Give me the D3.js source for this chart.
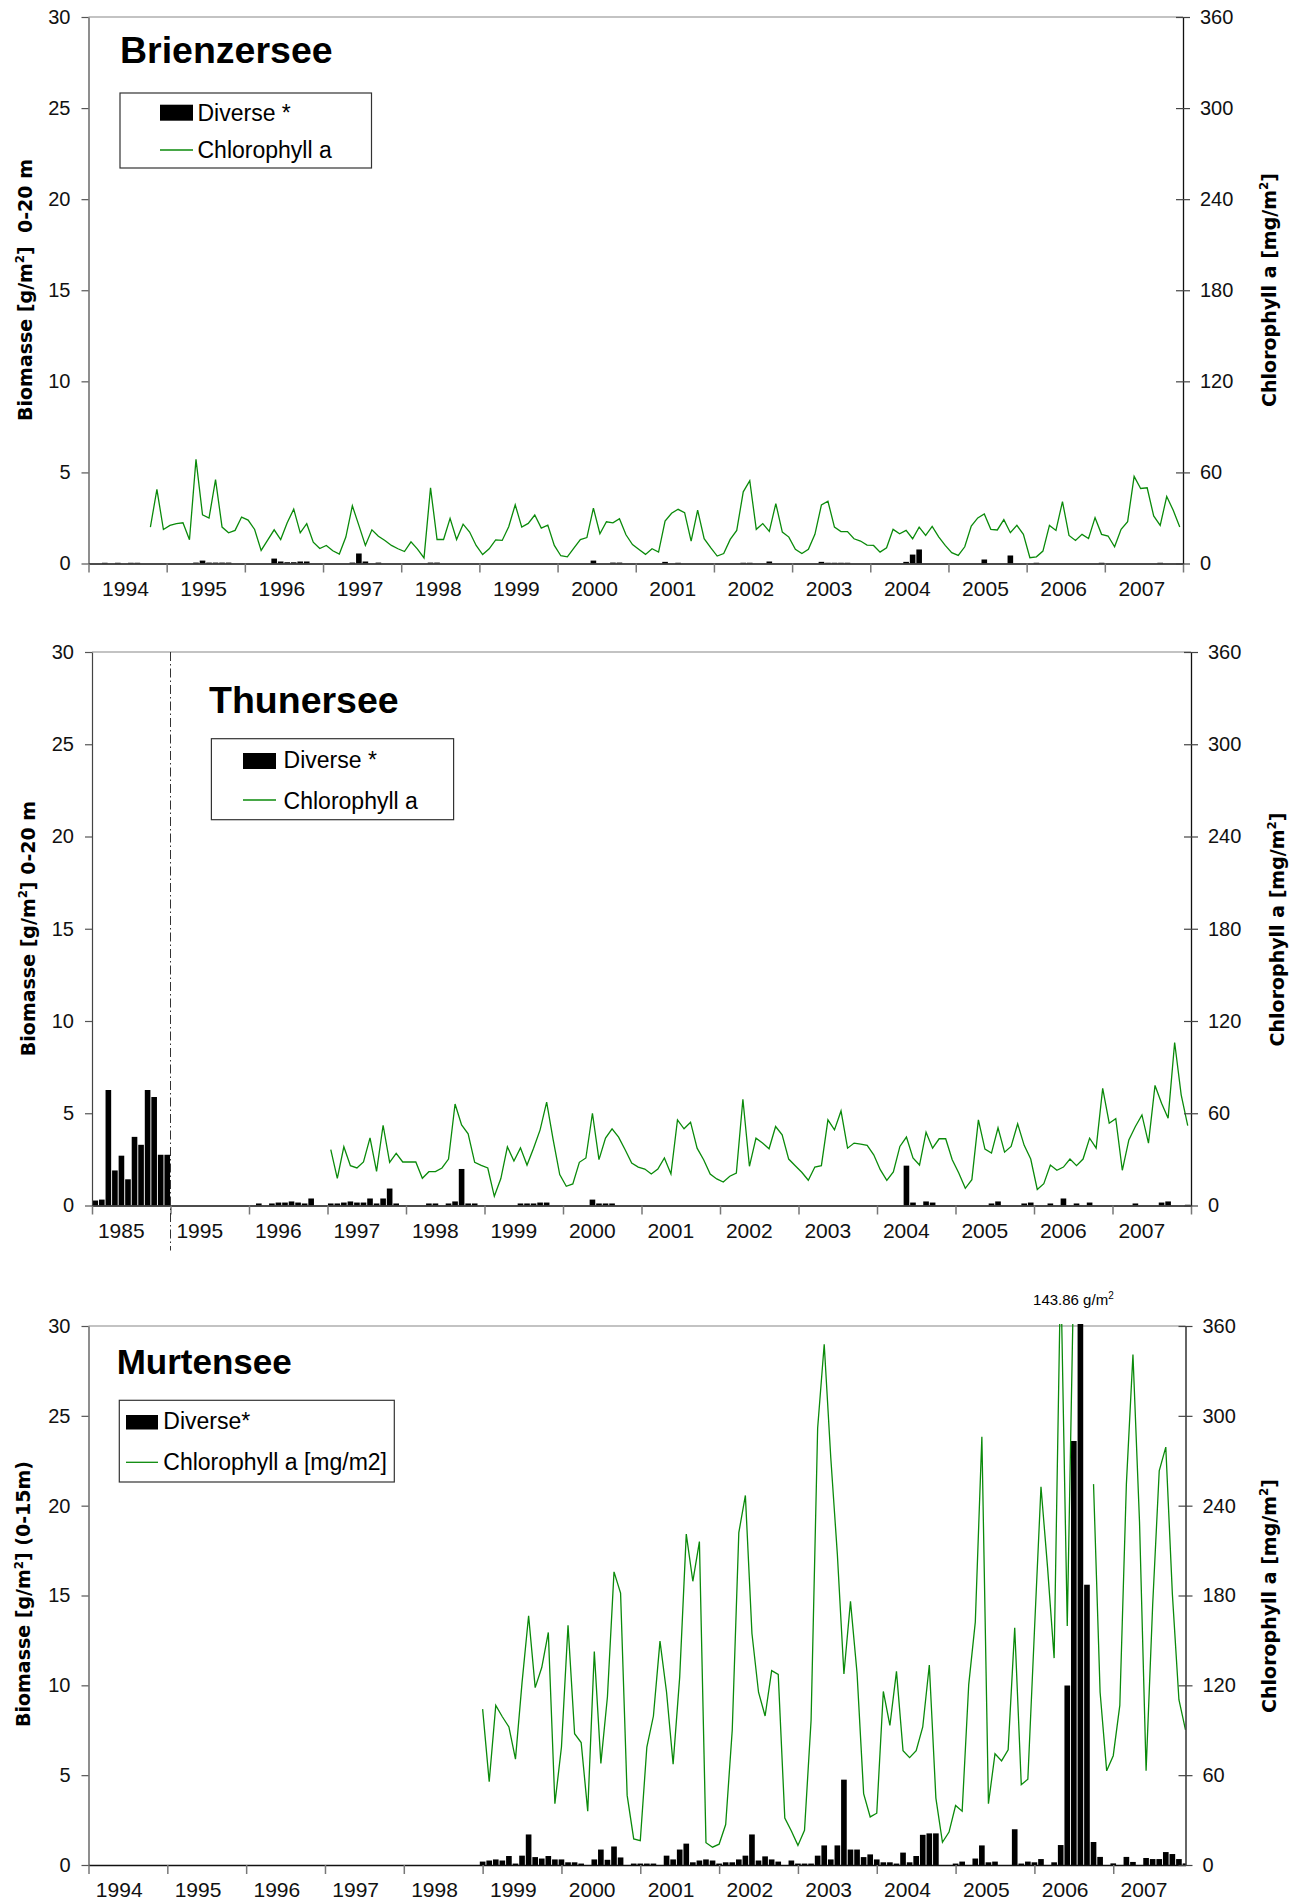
<!DOCTYPE html>
<html><head><meta charset="utf-8">
<script src="https://cdn.jsdelivr.net/npm/d3@7"></script>
<style>body{margin:0;background:#fff;} svg{display:block;background:#fff;}</style>
</head><body>
<svg id="chart" width="1300" height="1904"></svg>
<script>
// ================= DATA =================
// x = month index from the first year shown on each axis (12 months per year label)
const brienzYears = ["1994","1995","1996","1997","1998","1999","2000","2001","2002","2003","2004","2005","2006","2007"];
const thunYears   = ["1985","1995","1996","1997","1998","1999","2000","2001","2002","2003","2004","2005","2006","2007"];
const murtenYears = ["1994","1995","1996","1997","1998","1999","2000","2001","2002","2003","2004","2005","2006","2007"];

const biomassTicks = [0, 5, 10, 15, 20, 25, 30];
const chlTicks = [0, 60, 120, 180, 240, 300, 360];

// Brienzersee: biomass "Diverse *" [g/m2], one value per month (1994..2007)
const brienzBio = [
  0,0,0.04,0,0.04,0,0.04,0.04,0,0,0,0,
  0,0,0,0,0.05,0.16,0.05,0.05,0.05,0.05,0,0,
  0,0,0,0,0.27,0.11,0.07,0.07,0.11,0.11,0,0,
  0,0,0,0,0.05,0.55,0.11,0,0.05,0,0,0,
  0,0,0,0,0.05,0.05,0,0,0,0,0,0,
  0,0,0,0,0,0,0,0,0,0,0,0,
  0,0,0,0,0,0.16,0,0,0.05,0.05,0,0,
  0,0,0,0,0.09,0,0.04,0,0,0,0,0,
  0,0,0,0,0.04,0.04,0,0,0.11,0,0,0,
  0,0,0,0,0.09,0.04,0.04,0.04,0.04,0,0,0,
  0,0,0,0,0,0.09,0.49,0.77,0,0,0,0,
  0,0,0,0,0,0.22,0,0,0,0.44,0,0,
  0,0.04,0,0,0,0,0,0,0,0,0,0.04,
  0,0,0,0,0,0,0,0,0.04,0,0,0
];
// Brienzersee chlorophyll a [mg/m2], monthly from month index 9 (Oct 1994)
const brienzChlStart = 9;
const brienzChl = [
  24.0,48.8,22.4,
  25.1,26.2,26.8,15.6,68.6,32.1,29.9,55.2,24.0,20.2,21.8,30.6,
  28.6,22.4,8.6,15.4,22.2,15.8,26.8,35.8,20.2,26.2,14.1,9.9,
  11.9,8.4,6.2,17.4,38.0,25.1,11.9,22.2,18.0,15.2,11.9,9.7,
  7.9,14.3,9.5,3.7,49.9,15.8,15.8,29.7,15.8,25.9,20.7,11.9,
  5.9,9.7,15.6,15.2,24.2,38.7,24.0,26.4,31.9,23.3,25.3,11.9,
  5.1,4.4,10.1,15.8,17.1,36.5,19.6,27.5,26.8,29.5,18.9,12.5,
  9.2,6.0,9.7,7.5,28.0,33.1,35.7,33.5,14.8,35.1,16.3,10.4,
  4.9,6.6,15.9,21.8,47.2,54.5,22.5,26.3,21.2,39.5,20.7,17.4,
  9.3,6.6,9.3,19.2,38.6,41.0,24.0,21.0,21.0,16.3,14.8,12.1,
  11.9,7.5,10.4,22.5,19.6,21.8,16.3,24.0,18.5,24.5,17.6,11.9,
  7.1,5.3,11.0,24.7,30.0,32.6,22.5,22.1,28.9,20.3,25.1,19.2,
  3.8,4.4,8.2,25.1,21.8,40.8,18.5,15.2,19.2,16.5,30.2,19.2,
  18.1,11.0,22.5,27.6,57.4,49.4,49.9,31.3,25.1,44.1,35.1,24.0
];

// Thunersee: biomass [g/m2], monthly (1985, then 1995..2007)
const thunBio = [
  0.27,0.32,6.26,1.9,2.7,1.42,3.72,3.29,6.26,5.88,2.75,2.75,
  0,0,0,0,0,0,0,0,0,0,0,0,
  0,0.11,0,0.11,0.16,0.16,0.22,0.16,0.11,0.38,0,0,
  0.11,0.11,0.16,0.22,0.16,0.16,0.38,0.11,0.38,0.92,0.11,0,
  0,0,0,0.11,0.11,0,0.11,0.22,1.98,0.11,0.11,0,
  0,0,0,0,0,0.11,0.11,0.11,0.16,0.16,0,0,
  0,0,0,0,0.32,0.11,0.11,0.11,0,0,0,0,
  0,0,0,0,0,0,0,0,0,0,0,0,
  0,0,0,0,0,0,0,0,0,0,0,0,
  0,0,0,0,0,0,0,0,0,0,0,0,
  0,0,0,0,2.16,0.16,0,0.22,0.16,0,0,0,
  0,0,0,0,0,0.11,0.22,0,0,0,0.11,0.16,
  0,0,0.11,0,0.38,0,0.11,0,0.16,0,0,0,
  0,0,0,0.11,0,0,0,0.16,0.22,0,0,0.04
];
// Thunersee chlorophyll a [mg/m2], monthly from month index 36 (Jan 1997)
const thunChlStart = 36;
const thunChl = [
  36.3,17.7,38.2,25.9,24.4,28.3,44.0,22.2,52.2,28.1,33.9,28.3,
  28.3,28.3,17.7,22.0,22.0,24.4,30.2,66.0,52.4,46.6,28.1,26.1,
  24.4,6.0,17.5,38.2,28.9,37.5,26.3,37.3,49.2,67.3,42.7,20.1,
  12.5,14.0,28.1,30.9,60.0,29.8,43.8,49.9,44.5,36.3,27.6,25.0,
  23.7,20.5,23.7,30.9,20.5,55.7,49.9,54.2,37.3,29.8,20.5,17.3,
  15.3,19.0,21.1,69.1,25.5,43.8,40.6,36.9,51.4,46.0,30.2,25.9,
  21.6,16.4,25.0,25.9,55.7,49.2,61.5,37.3,40.6,39.9,39.1,33.0,
  23.3,16.4,21.8,38.4,44.5,30.9,26.3,47.7,37.3,43.4,43.4,29.8,
  21.1,11.2,16.8,55.7,36.7,34.1,50.5,34.7,38.4,53.1,39.1,30.2,
  10.4,14.2,26.3,22.9,25.0,30.2,25.9,30.2,43.8,37.3,76.2,53.5,
  56.5,22.9,42.7,51.4,58.9,40.6,78.1,66.5,56.8,106.0,72.0,52.0
];

// Murtensee: biomass "Diverse*" [g/m2], monthly (1994..2007)
const murtenBio = [
  0,0,0,0,0,0,0,0,0,0,0,0,
  0,0,0,0,0,0,0,0,0,0,0,0,
  0,0,0,0,0,0,0,0,0,0,0,0,
  0,0,0,0,0,0,0,0,0,0,0,0,
  0,0,0,0,0,0,0,0,0,0,0,0,
  0.19,0.25,0.31,0.25,0.50,0.08,0.52,1.70,0.44,0.36,0.50,0.31,
  0.31,0.15,0.15,0.08,0,0.31,0.86,0.29,1.03,0.42,0,0.08,
  0.08,0.08,0.08,0,0.52,0.31,0.86,1.19,0.15,0.25,0.31,0.25,
  0.08,0.15,0.15,0.31,0.52,1.70,0.25,0.48,0.31,0.19,0,0.25,
  0.08,0.08,0.08,0.52,1.09,0.31,1.09,4.75,0.86,0.86,0.44,0.59,
  0.31,0.15,0.15,0.08,0.69,0.15,0.50,1.68,1.76,1.76,0,0,
  0.08,0.19,0,0.36,1.09,0.15,0.19,0,0,1.99,0.08,0.19,
  0.15,0.33,0,0.15,1.11,9.99,23.6,143.86,15.6,1.28,0.45,0,
  0.09,0,0.45,0.17,0,0.39,0.33,0.33,0.72,0.61,0.33,0.09
];
// Murtensee chlorophyll a [mg/m2], monthly from month index 60 (Jan 1999); null = no value
const murtenChlStart = 60;
const murtenChl = [
  104.1,55.6,106.6,99.0,92.2,70.7,121.8,166.5,118.5,131.9,155.3,40.9,
  78.8,160.1,87.7,81.8,35.9,142.5,67.9,112.4,195.8,181.6,46.5,17.4,
  16.2,78.8,99.5,149.5,115.4,67.4,125.5,221.0,189.5,216.0,14.9,11.9,
  13.9,27.0,90.2,222.0,246.8,154.6,115.4,99.5,129.8,127.3,31.3,22.7,
  13.1,23.2,96.5,291.7,347.8,272.0,207.6,127.6,176.1,128.1,47.7,32.1,
  34.6,115.9,93.2,129.3,76.3,71.7,76.3,92.2,133.6,44.7,15.2,22.0,
  39.7,35.9,120.5,162.2,286.0,40.9,74.3,69.5,77.0,158.4,53.6,57.3,
  155.9,252.6,198.8,138.2,400,159.6,400,null,null,254.4,115.4,62.9,
  73.0,106.6,254.4,341.0,229.1,62.9,173.5,263.2,279.1,181.1,110.4,90.2
];
const murtenPeakIndex = 151;
const murtenPeakLabel = "143.86 g/m";

// ================= LAYOUT / DRAWING =================
const SANS = "'Liberation Sans', Arial, sans-serif";
const WIDE = "'DejaVu Sans', Verdana, sans-serif";
const GREEN = "#0a8a0a";

const panels = [
  {
    title: "Brienzersee", years: brienzYears, bio: brienzBio, chl: brienzChl, chlStart: brienzChlStart,
    yTitle: ["Biomasse [g/m", "2", "]  0-20 m"], legend: ["Diverse *", "Chlorophyll a"],
    G: { left: 88.5, right: 1183, top: 17, bottom: 563.5, xMax: 168, off: 0.5, labelOff: 5.6,
         titleX: 120, titleY: 63, titleSize: 37.5,
         lyX: 25, lyY: 290, ryX: 1269, ryY: 290,
         legend: { x: 120, y: 93, w: 251.5, h: 75, rx: 160, ry: 104.7, rw: 33, rh: 16, tx: 197.5, t1y: 120.5, ly: 150, t2y: 158, size: 23 } }
  },
  {
    title: "Thunersee", years: thunYears, bio: thunBio, chl: thunChl, chlStart: thunChlStart,
    yTitle: ["Biomasse [g/m", "2", "] 0-20 m"], legend: ["Diverse *", "Chlorophyll a"], breakAt: 12,
    G: { left: 92, right: 1191, top: 652, bottom: 1205.5, xMax: 168, off: 0.5, labelOff: 4.4,
         titleX: 209, titleY: 713, titleSize: 37.5,
         lyX: 27.5, lyY: 928.5, ryX: 1277, ryY: 929.5,
         legend: { x: 211.4, y: 738.7, w: 242.2, h: 81, rx: 243, ry: 753, rw: 33, rh: 16, tx: 283.6, t1y: 768, ly: 800, t2y: 808.7, size: 23 } }
  },
  {
    title: "Murtensee", years: murtenYears, bio: murtenBio, chl: murtenChl, chlStart: murtenChlStart,
    yTitle: ["Biomasse [g/m", "2", "] (0-15m)"], legend: ["Diverse*", "Chlorophyll a [mg/m2]"],
    peak: true,
    G: { left: 88.5, right: 1185.5, top: 1326, bottom: 1865, xMax: 167, off: 0, labelOff: 4.6,
         titleX: 116.7, titleY: 1374, titleSize: 35,
         lyX: 23.2, lyY: 1594, ryX: 1269, ryY: 1596,
         legend: { x: 119.3, y: 1400.3, w: 275, h: 81.7, rx: 126, ry: 1415, rw: 32, rh: 14.5, tx: 163.3, t1y: 1429.3, ly: 1462.3, t2y: 1470, size: 23 } }
  }
];

const svg = d3.select("#chart");
const defs = svg.append("defs");

function rotTitle(g, cx, cy, parts, size) {
  const t = g.append("text")
    .attr("transform", `translate(${cx + 7},${cy}) rotate(-90)`)
    .attr("text-anchor", "middle")
    .attr("font-family", WIDE).attr("font-weight", "bold").attr("font-size", size)
    .attr("fill", "#000")
    .style("white-space", "pre");
  t.append("tspan").text(parts[0]);
  t.append("tspan").text(parts[1]).attr("font-size", size * 0.62).attr("dy", -size * 0.4);
  t.append("tspan").text(parts[2]).attr("dy", size * 0.4);
}

panels.forEach((p, idx) => {
  const G = p.G;
  const x = d3.scaleLinear().domain([0, G.xMax]).range([G.left, G.right]);
  const yL = d3.scaleLinear().domain([0, 30]).range([G.bottom, G.top]);
  const yR = d3.scaleLinear().domain([0, 360]).range([G.bottom, G.top]);
  const g = svg.append("g");

  const clipId = "clip" + idx;
  defs.append("clipPath").attr("id", clipId).append("rect")
    .attr("x", G.left).attr("y", G.top - 2)
    .attr("width", G.right - G.left).attr("height", G.bottom - G.top + 2);

  // top border
  g.append("line").attr("x1", G.left).attr("x2", G.right).attr("y1", G.top).attr("y2", G.top)
    .attr("stroke", "#888").attr("stroke-width", 1.2);

  // bars
  const pitch = x(1) - x(0);
  const bw = pitch * 0.86;
  const barData = p.bio.map((v, i) => ({ i, v })).filter(d => d.v > 0);
  g.append("g").attr("clip-path", `url(#${clipId})`)
    .selectAll("rect").data(barData).join("rect")
    .attr("x", d => x(d.i + G.off) - bw / 2)
    .attr("width", bw)
    .attr("y", d => yL(d.v))
    .attr("height", d => yL(0) - yL(d.v))
    .attr("fill", "#000");

  // chlorophyll line
  const lineData = p.chl.map((v, k) => ({ i: p.chlStart + k, v }));
  const line = d3.line().defined(d => d.v != null).x(d => x(d.i + G.off)).y(d => yR(d.v));
  g.append("path").datum(lineData)
    .attr("clip-path", `url(#${clipId})`)
    .attr("d", line)
    .attr("fill", "none").attr("stroke", GREEN).attr("stroke-width", 1.3);

  // bottom axis ticks
  const gx = g.append("g").attr("transform", `translate(0,${G.bottom})`)
    .call(d3.axisBottom(x).tickValues(d3.range(0, G.xMax + 0.001, 12)).tickSize(9).tickSizeOuter(0).tickFormat(""));
  gx.select(".domain").attr("stroke", "#111").attr("stroke-width", 1.5);
  gx.selectAll(".tick line").attr("stroke", "#777").attr("stroke-width", 1.5);

  // year labels
  const gl = g.append("g").attr("transform", `translate(0,${G.bottom})`)
    .call(d3.axisBottom(x).tickValues(p.years.map((_, i) => i * 12 + G.labelOff))
      .tickFormat((d, i) => p.years[i]).tickSize(0));
  gl.select(".domain").remove();
  gl.attr("font-family", SANS).attr("font-size", 21);
  gl.selectAll("text").attr("y", 32).attr("dy", null).attr("fill", "#111");

  // left axis
  const gyl = g.append("g").attr("transform", `translate(${G.left},0)`)
    .call(d3.axisLeft(yL).tickValues(biomassTicks).tickSize(7).tickSizeOuter(0).tickPadding(11));
  gyl.attr("font-family", SANS).attr("font-size", 20);
  gyl.select(".domain").attr("stroke", "#444").attr("stroke-width", 1.2);
  gyl.selectAll(".tick line").attr("stroke", "#555").attr("stroke-width", 1.2);
  gyl.selectAll(".tick text").attr("fill", "#111");

  // right axis (crossing ticks)
  const gyr = g.append("g").attr("transform", `translate(${G.right},0)`)
    .call(d3.axisRight(yR).tickValues(chlTicks).tickSize(7).tickSizeOuter(0).tickPadding(10));
  gyr.attr("font-family", SANS).attr("font-size", 20);
  gyr.select(".domain").attr("stroke", "#111").attr("stroke-width", 1.3);
  gyr.selectAll(".tick line").attr("x1", -7).attr("stroke", "#444").attr("stroke-width", 1.2);
  gyr.selectAll(".tick text").attr("fill", "#111");

  // break line (Thunersee)
  if (p.breakAt != null) {
    g.append("line").attr("x1", x(p.breakAt)).attr("x2", x(p.breakAt))
      .attr("y1", G.top).attr("y2", G.bottom + 45)
      .attr("stroke", "#333").attr("stroke-width", 1).attr("stroke-dasharray", "9,3,1.5,3");
  }

  // title
  g.append("text").attr("x", G.titleX).attr("y", G.titleY)
    .attr("font-family", SANS).attr("font-weight", "bold").attr("font-size", G.titleSize)
    .attr("fill", "#000").text(p.title);

  // legend
  const L = G.legend;
  g.append("rect").attr("x", L.x).attr("y", L.y).attr("width", L.w).attr("height", L.h)
    .attr("fill", "#fff").attr("stroke", "#333").attr("stroke-width", 1.2);
  g.append("rect").attr("x", L.rx).attr("y", L.ry).attr("width", L.rw).attr("height", L.rh).attr("fill", "#000");
  g.append("line").attr("x1", L.rx).attr("x2", L.rx + L.rw).attr("y1", L.ly).attr("y2", L.ly)
    .attr("stroke", GREEN).attr("stroke-width", 1.3);
  g.append("text").attr("x", L.tx).attr("y", L.t1y).attr("font-family", SANS).attr("font-size", L.size)
    .attr("fill", "#000").text(p.legend[0]);
  g.append("text").attr("x", L.tx).attr("y", L.t2y).attr("font-family", SANS).attr("font-size", L.size)
    .attr("fill", "#000").text(p.legend[1]);

  // axis titles
  rotTitle(g, G.lyX, G.lyY, p.yTitle, 19);
  rotTitle(g, G.ryX, G.ryY, ["Chlorophyll a [mg/m", "2", "]"], 19);

  // peak annotation (Murtensee)
  if (p.peak) {
    const t = g.append("text").attr("x", x(murtenPeakIndex) - 7).attr("y", G.top - 21)
      .attr("text-anchor", "middle").attr("font-family", SANS).attr("font-size", 15).attr("fill", "#000");
    t.append("tspan").text(murtenPeakLabel);
    t.append("tspan").text("2").attr("font-size", 10).attr("dy", -6);
  }
});
</script>
</body></html>
